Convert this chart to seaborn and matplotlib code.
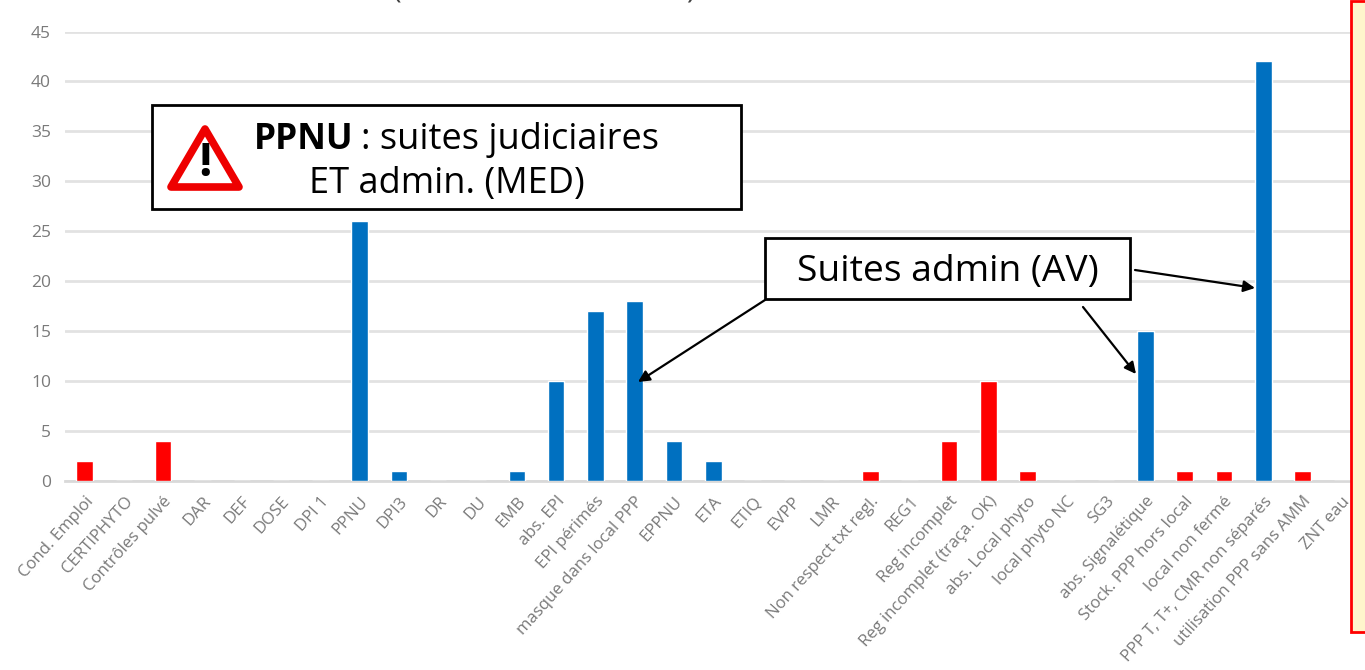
import matplotlib
matplotlib.use("Agg")
import matplotlib.pyplot as plt
from matplotlib.patches import Rectangle, Polygon
import pandas as pd
import seaborn as sns

categories = ["Cond. Emploi", "CERTIPHYTO", "Contrôles pulvé", "DAR", "DEF", "DOSE", "DPI 1", "PPNU",
              "DPI3", "DR", "DU", "EMB", "abs. EPI", "EPI périmés", "masque dans local PPP", "EPPNU",
              "ETA", "ETIQ", "EVPP", "LMR", "Non respect txt regl.", "REG1", "Reg incomplet",
              "Reg incomplet (traça. OK)", "abs. Local phyto", "local phyto NC", "SG3",
              "abs. Signalétique", "Stock. PPP hors local", "local non fermé",
              "PPP T, T+, CMR non séparés", "utilisation PPP sans AMM", "ZNT eau"]
values = [2, 0, 4, 0, 0, 0, 0, 26, 1, 0, 0, 1, 10, 17, 18, 4, 2, 0, 0, 0, 1, 0, 4, 10, 1, 0, 0, 15, 1, 1, 42, 1, 0]
groups = ["r", "r", "r", "r", "r", "r", "r", "b", "b", "b", "b", "b", "b", "b", "b", "b", "b", "b", "b", "b",
          "r", "r", "r", "r", "r", "r", "r", "b", "r", "r", "b", "r", "r"]
yticks = [0, 5, 10, 15, 20, 25, 30, 35, 40, 45]

W, H = 1365, 670
BLUE, RED, GREY = "#0070C0", "#FF0000", "#7A7A7A"
FONT = "Open Sans"

sns.set_theme(style="white")
plt.rcParams["font.family"] = [FONT, "DejaVu Sans"]
fig = plt.figure(figsize=(W / 100, H / 100), dpi=100, facecolor="white")
ax = fig.add_axes([65.0 / W, 1 - 481 / H, (1362 - 65.5) / W, 449.5 / H])

df = pd.DataFrame({"cat": categories, "val": values, "grp": groups})
sns.barplot(data=df, x="cat", y="val", hue="grp", palette={"b": BLUE, "r": RED},
            dodge=False, width=0.42, legend=False, ax=ax, zorder=3, saturation=1)

ax.set_xlim(-0.5, len(categories) - 0.5)
ax.set_ylim(0, 45)
ax.set_yticks(yticks)
ax.set_xlabel("")
ax.set_ylabel("")
ax.grid(axis="y", color="#E2E2E2", lw=2)
ax.set_axisbelow(True)
for s in ax.spines.values():
    s.set_visible(False)
ax.spines["bottom"].set_visible(True)
ax.spines["bottom"].set_color("#D9D9D9")
ax.spines["bottom"].set_linewidth(2)
ax.tick_params(axis="y", length=0, labelsize=12.5, labelcolor=GREY, pad=10)
ax.tick_params(axis="x", length=0, labelsize=12.1, labelcolor=GREY, pad=9)
for lab in ax.get_xticklabels():
    lab.set_rotation(48)
    lab.set_ha("right")
    lab.set_va("top")
    lab.set_rotation_mode("anchor")


def px(x, y):
    return (x / W, 1 - y / H)


def box(x0, y0, x1, y1, z=5, **kw):
    fig.add_artist(Rectangle(px(x0, y1), (x1 - x0) / W, (y1 - y0) / H,
                             transform=fig.transFigure, zorder=z, **kw))


# right-hand panel, cropped by the image edge
box(1350.5, 1, 1375, 632, facecolor="#FFF5CC", edgecolor=RED, linewidth=2)

# title fragment cut by the top edge
for xp, ch in [(397, "("), (690, ")")]:
    fig.text(*px(xp, 4), ch, fontsize=21, color="#404040", ha="center", va="bottom", zorder=6)

# warning box
box(152, 105, 741, 209, facecolor="white", edgecolor="black", linewidth=2)
tri = [px(205, 129), px(171, 187), px(239, 187)]
fig.add_artist(Polygon(tri, closed=True, transform=fig.transFigure, facecolor="white",
                       edgecolor="#EE0000", linewidth=5.5, joinstyle="round", zorder=6))
fig.text(*px(205, 164), "!", fontsize=34, fontweight="bold", color="black", ha="center", va="center", zorder=7)
fig.text(*px(254, 140), "PPNU", fontsize=25.5, fontweight="bold", color="black", ha="left", va="center", zorder=7)
fig.text(*px(361, 140), ": suites judiciaires", fontsize=26, color="black", ha="left", va="center", zorder=7)
fig.text(*px(447, 184), "ET admin. (MED)", fontsize=26, color="black", ha="center", va="center", zorder=7)

# admin box
box(765, 238, 1130, 299, facecolor="white", edgecolor="black", linewidth=2)
fig.text(*px(948, 272), "Suites admin (AV)", fontsize=26.8, color="black", ha="center", va="center", zorder=7)

arrow = dict(arrowstyle="-|>", color="black", lw=1.6, mutation_scale=17, shrinkA=0, shrinkB=0)
for start, end in [((765, 300), (638, 382)), ((1083, 307), (1136, 374)), ((1135, 270), (1255, 288))]:
    ax.annotate("", xy=px(*end), xytext=px(*start), xycoords="figure fraction",
                textcoords="figure fraction", arrowprops=arrow, zorder=8)

fig.savefig("out.png", dpi=100, facecolor="white")
